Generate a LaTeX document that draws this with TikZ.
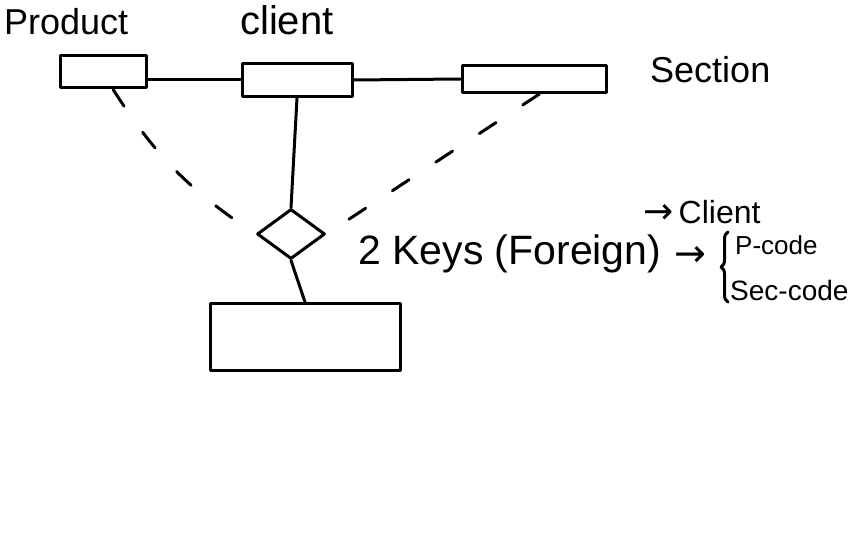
\documentclass[tikz,border=0pt]{standalone}
\usepackage{fontspec}
\setmainfont{Liberation Sans}
\newfontfamily\arrowfont{DejaVu Sans}
\usetikzlibrary{shapes.geometric,decorations.pathreplacing}
\begin{document}
\begin{tikzpicture}[x=1pt,y=1pt,
  ink/.style={line width=3pt,line cap=round,line join=round,black},
  ent/.style={ink,draw,rectangle,inner sep=0pt},
  rel/.style={ink,draw,diamond,shape aspect=1.36,inner sep=0pt,minimum width=68pt,minimum height=50pt},
  lbl/.style={inner sep=0pt,anchor=west,font=\fontsize{34}{36}\selectfont},
  dsh/.style={ink,dash pattern=on 20pt off 32pt}]
\useasboundingbox (0,0) rectangle (864,-540);
\node[ent,minimum width=86pt,minimum height=32pt] (prod) at (103,-72) {};
\node[ent,minimum width=110pt,minimum height=33pt] (cli) at (297,-80) {};
\node[ent,minimum width=144pt,minimum height=27pt] (sec) at (534,-79) {};
\node[rel] (r) at (291,-234) {};
\node[ent,minimum width=190pt,minimum height=67pt] (bot) at (305,-337) {};
\node[lbl,font=\fontsize{36}{38}\selectfont] (tprod) at (4,-22) {Product};
\node[lbl,font=\fontsize{40}{42}\selectfont] (tcli) at (240,-20) {client};
\node[lbl,font=\fontsize{36}{38}\selectfont] (tsec) at (650,-70) {Section};
\node[lbl,font=\fontsize{41}{43}\selectfont] (tkeys) at (358,-254) {2 Keys (Foreign)};
\node[lbl,font=\fontsize{38}{40}\arrowfont] (tarr) at (674,-256) {→};
\node[lbl,font=\fontsize{32}{34}\selectfont] (tclient) at (643,-212) {{\arrowfont\fontsize{36}{38}\selectfont →}\,Client};
\node[lbl,font=\fontsize{26}{28}\selectfont] (pc) at (735,-245) {P-code};
\node[lbl,font=\fontsize{28}{30}\selectfont] (sc) at (730,-290) {Sec-code};
\draw[ink,decorate,decoration={brace,amplitude=7pt}] (728,-302) -- (728,-232);
\draw[ink] (prod.east |- cli.west) -- (cli.west);
\draw[ink] (cli.east) -- (sec.west);
\draw[ink] (cli.south) -- (r.north);
\draw[ink] (r.south) -- (bot.north);
\draw[dsh] (prod.-60) to[bend right=12] (r.west);
\draw[dsh] (sec.-70) -- (r.east);
\end{tikzpicture}
\end{document}
